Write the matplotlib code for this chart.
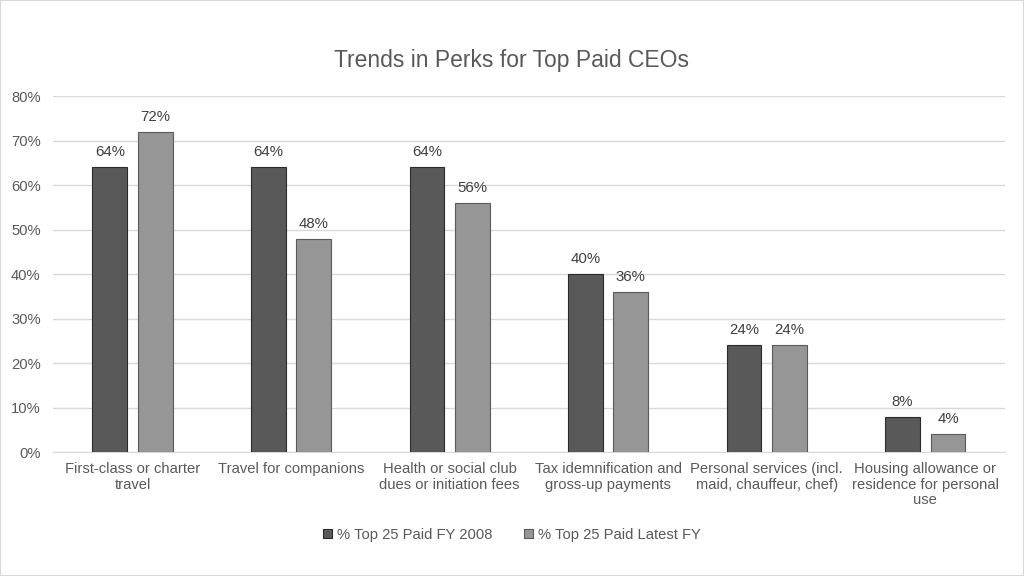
import matplotlib
matplotlib.use("Agg")
import matplotlib.pyplot as plt
import numpy as np

categories = [
    "First-class or charter\ntravel",
    "Travel for companions",
    "Health or social club\ndues or initiation fees",
    "Tax idemnification and\ngross-up payments",
    "Personal services (incl.\nmaid, chauffeur, chef)",
    "Housing allowance or\nresidence for personal\nuse",
]
fy2008 = [64, 64, 64, 40, 24, 8]
latest = [72, 48, 56, 36, 24, 4]
series_names = ["% Top 25 Paid FY 2008", "% Top 25 Paid Latest FY"]

plt.rcParams["font.family"] = ["Liberation Sans", "DejaVu Sans"]
txt = "#595959"

fig = plt.figure(figsize=(10.24, 5.76), dpi=100)
ax = fig.add_axes([0.052, 0.215, 0.929, 0.618])

x = np.arange(len(categories))
w = 0.22
off = 0.143
b1 = ax.bar(x - off, fy2008, w, color="#595959", edgecolor="#2b2b2b", linewidth=0.8,
            label=series_names[0], zorder=3)
b2 = ax.bar(x + off, latest, w, color="#969696", edgecolor="#5a5a5a", linewidth=0.8,
            label=series_names[1], zorder=3)
for bars, vals in ((b1, fy2008), (b2, latest)):
    for r, v in zip(bars, vals):
        ax.text(r.get_x() + r.get_width() / 2, v + 1.8, f"{v}%", ha="center",
                va="bottom", fontsize=10.8, color="#404040")

ax.set_xlim(-0.5, len(categories) - 0.5)
ax.set_ylim(0, 80)
ax.set_yticks(np.arange(0, 81, 10))
ax.set_yticklabels([f"{t}%" for t in range(0, 81, 10)])
ax.set_xticks(x)
ax.set_xticklabels(categories, linespacing=1.15)
ax.tick_params(axis="both", length=0, labelsize=10.6, colors=txt)
ax.tick_params(axis="y", pad=9)
ax.tick_params(axis="x", pad=7)
ax.grid(axis="y", color="#d9d9d9", linewidth=1, zorder=0)
for s in ("top", "right", "left"):
    ax.spines[s].set_visible(False)
ax.spines["bottom"].set_color("#d9d9d9")

fig.text(0.5, 0.895, "Trends in Perks for Top Paid CEOs", ha="center", va="center",
         fontsize=16.5, color=txt)
fig.legend(handles=[b1, b2], loc="center", bbox_to_anchor=(0.5, 0.072), ncol=2,
           frameon=False, fontsize=10.6, labelcolor=txt, handlelength=0.6,
           handleheight=0.6, handletextpad=0.3, columnspacing=2.2)

fig.patches.append(plt.Rectangle((0, 0), 1, 1, transform=fig.transFigure,
                                 fill=False, edgecolor="#d9d9d9", linewidth=1.5))
fig.savefig("out.png", dpi=100)
